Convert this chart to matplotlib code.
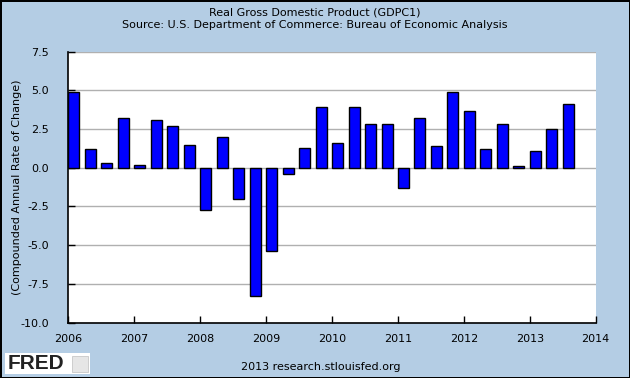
import matplotlib.pyplot as plt
from matplotlib.patches import Rectangle
import numpy as np

# Real GDP, quarterly, compounded annual rate of change (2006Q1 - 2013Q3)
start_year = 2006
gdp_change = [4.9, 1.2, 0.3, 3.2,
              0.2, 3.1, 2.7, 1.5,
              -2.7, 2.0, -2.0, -8.3,
              -5.4, -0.4, 1.3, 3.9,
              1.6, 3.9, 2.8, 2.8,
              -1.3, 3.2, 1.4, 4.9,
              3.7, 1.2, 2.8, 0.1,
              1.1, 2.5, 4.1]
year_ticks = list(range(2006, 2015))
y_ticks = [-10.0, -7.5, -5.0, -2.5, 0.0, 2.5, 5.0, 7.5]

bg = '#b4cde4'

fig = plt.figure(figsize=(6.3, 3.78), dpi=100, facecolor=bg, edgecolor='black')
fig.patch.set_linewidth(2)
ax = fig.add_axes([0.1087, 0.1468, 0.9456 - 0.1087, 0.8632 - 0.1468])

x = start_year + 0.25 * np.arange(len(gdp_change))
ax.bar(x, gdp_change, width=0.167, align='edge', color='#0000ff',
       edgecolor='black', linewidth=1, zorder=3)

ax.set_xlim(2006, 2014)
ax.set_ylim(-10, 7.5)
ax.set_xticks(year_ticks)
ax.set_yticks(y_ticks)
ax.set_yticklabels(['%.1f' % v for v in y_ticks])
ax.yaxis.grid(True, color='#b0b0b0', linewidth=1, zorder=0)
ax.tick_params(axis='both', direction='in', length=5, width=1, labelsize=8, color='black')
ax.tick_params(axis='x', pad=8)
ax.tick_params(axis='y', pad=14)

ax.spines['top'].set_visible(False)
ax.spines['right'].set_visible(False)
ax.spines['left'].set_linewidth(1.2)
ax.spines['bottom'].set_linewidth(1.2)

fig.text(0.5, 0.968, 'Real Gross Domestic Product (GDPC1)', ha='center', va='center', fontsize=8)
fig.text(0.5, 0.934, 'Source: U.S. Department of Commerce: Bureau of Economic Analysis',
         ha='center', va='center', fontsize=8)
fig.text(0.027, 0.505, '(Compounded Annual Rate of Change)', rotation=90,
         ha='center', va='center', fontsize=8)
fig.text(0.509, 0.029, '2013 research.stlouisfed.org', ha='center', va='center', fontsize=8)

# FRED logo box
fig.patches.append(Rectangle((5 / 630, 4 / 378), 85 / 630, 21 / 378, transform=fig.transFigure,
                             facecolor='white', edgecolor='none'))
fig.text(8 / 630, 14.5 / 378, 'FRED', ha='left', va='center', fontsize=15, fontweight='bold',
         family='Liberation Sans', color='#222222')
fig.patches.append(Rectangle((72 / 630, 6 / 378), 16 / 630, 16 / 378, transform=fig.transFigure,
                             facecolor='#e6e6e6', edgecolor='#c8c8c8', linewidth=0.6))

plt.savefig('out.png', dpi=100, facecolor=bg)
